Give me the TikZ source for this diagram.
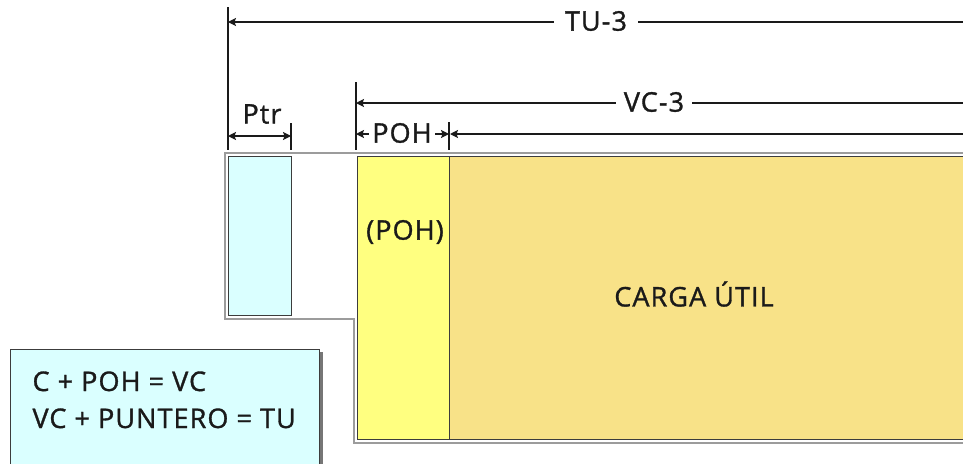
\documentclass[tikz,border=0pt]{standalone}
\usepackage{fontspec}
\setmainfont{Open Sans}[LetterSpace=4,FakeBold=1.2]
\usetikzlibrary{arrows.meta}
\definecolor{cyanbox}{HTML}{DAFFFF}
\definecolor{pohyel}{HTML}{FFFF80}
\definecolor{cargacol}{HTML}{F8E288}
\definecolor{framegray}{HTML}{9C9C9C}
\definecolor{inkc}{HTML}{1A1A1A}
\begin{document}
\begin{tikzpicture}[x=1pt,y=-1pt,
  lbl/.style={font=\fontsize{27}{32}\selectfont, text=inkc},
  dimlbl/.style={lbl, fill=white, inner xsep=9pt, inner ysep=1pt},
  boxst/.style={draw=inkc!85, line width=1.3pt, inner sep=0pt, anchor=north west},
  dimline/.style={draw=inkc, line width=1.3pt},
  dimarrow/.style={dimline, -{Stealth[length=8pt,width=8pt,inset=1.5pt]}},
  dimdbl/.style={dimline, {Stealth[length=8pt,width=8pt,inset=1.5pt]}-{Stealth[length=8pt,width=8pt,inset=1.5pt]}},
  tick/.style={draw=inkc, line width=1.3pt}]
\useasboundingbox (0,0) rectangle (963,463);
\clip (0,0) rectangle (963,463);
\fill[white] (0,0) rectangle (963,463);

% outer frame (gray)
\draw[framegray, line width=2pt] (990,152.5) -- (224.5,152.5) -- (224.5,318.5) -- (353.5,318.5) -- (353.5,443) -- (990,443);

% boxes
\node[boxst, fill=cyanbox, minimum width=63pt, minimum height=159pt] (ptr) at (228,156) {};
\node[boxst, fill=cargacol, minimum width=540pt, minimum height=283pt] (carga) at (449,156) {};
\node[boxst, fill=pohyel, minimum width=92pt, minimum height=283pt] (poh) at (357,156) {};
\node[lbl] (pohtxt) at (405,232) {(POH)};
\node[lbl] (cargatxt) at (694,294) {CARGA ÚTIL};

% legend box
\fill[inkc!60] (13,352) rectangle (323,480);
\node[boxst, fill=cyanbox, minimum width=309pt, minimum height=130pt] (legend) at (10,349) {};
\node[lbl, anchor=base west] (leg1) at (29,391) {C + POH = VC};
\node[lbl, anchor=base west] (leg2) at (29,428) {VC + PUNTERO = TU};

% ticks
\coordinate (tuT) at (228,7);   \coordinate (tuB) at (228,150);
\coordinate (vcT) at (356,82);  \coordinate (vcB) at (356,150);
\coordinate (ptrT) at (291,123); \coordinate (ptrB) at (291,150);
\coordinate (pohT) at (449,122); \coordinate (pohB) at (449,150);
\draw[tick] (tuT) -- (tuB);
\draw[tick] (vcT) -- (vcB);
\draw[tick] (ptrT) -- (ptrB);
\draw[tick] (pohT) -- (pohB);

% TU-3
\coordinate (tuL) at (228,22); \coordinate (tuR) at (990,22);
\draw[dimarrow] (tuR) -- (tuL);
\node[dimlbl, inner xsep=11pt] (tulbl) at (596,21) {TU-3};

% VC-3
\coordinate (vcL) at (356,103); \coordinate (vcR) at (990,103);
\draw[dimarrow] (vcR) -- (vcL);
\node[dimlbl, inner xsep=8pt] (vclbl) at (654,102) {VC-3};

% Ptr
\coordinate (ptrL) at (228,136); \coordinate (ptrR) at (291,136);
\draw[dimdbl] (ptrL) -- (ptrR);
\node[lbl] (ptrlbl) at (262,114) {Ptr};

% POH
\coordinate (pohL) at (356,134); \coordinate (pohR) at (449,134);
\draw[dimdbl] (pohL) -- (pohR);
\node[dimlbl, inner xsep=3pt] (pohlbl) at (402,133) {POH};
\coordinate (cgL) at (450,134); \coordinate (cgR) at (990,134);
\draw[dimarrow] (cgR) -- (cgL);
\end{tikzpicture}
\end{document}
